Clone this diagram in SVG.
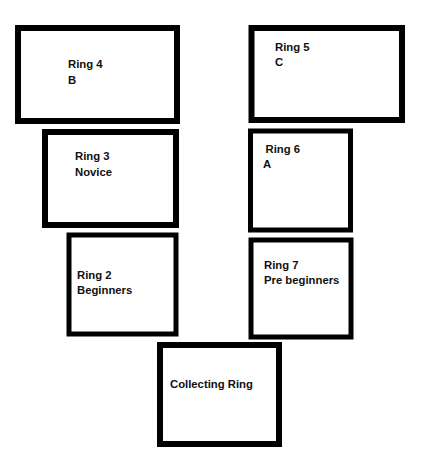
<svg xmlns="http://www.w3.org/2000/svg" width="433" height="451" viewBox="0 0 433 451">
  <style>
    .ring { fill: #ffffff; stroke: #000000; stroke-width: 6; }
    .label { font-family: "Liberation Sans", Arial, sans-serif; font-weight: bold; font-size: 11.3px; fill: #111111; }
  </style>
  <rect x="0" y="0" width="433" height="451" fill="#ffffff"/>

  <g id="ring4">
    <rect class="ring" x="18" y="28" width="159" height="93"/>
    <text class="label" x="68" y="68">Ring 4</text>
    <text class="label" x="68" y="84">B</text>
  </g>

  <g id="ring5">
    <rect class="ring" x="251.5" y="28" width="150.5" height="92"/>
    <text class="label" x="275" y="51">Ring 5</text>
    <text class="label" x="275" y="66">C</text>
  </g>

  <g id="ring3">
    <rect class="ring" x="45" y="132" width="131" height="93"/>
    <text class="label" x="75" y="160">Ring 3</text>
    <text class="label" x="75" y="176">Novice</text>
  </g>

  <g id="ring6">
    <rect class="ring" x="250.5" y="131" width="100" height="99" style="stroke-width:5"/>
    <text class="label" x="265.5" y="153">Ring 6</text>
    <text class="label" x="263" y="168">A</text>
  </g>

  <g id="ring2">
    <rect class="ring" x="69" y="235" width="107" height="99" style="stroke-width:5"/>
    <text class="label" x="77" y="279">Ring 2</text>
    <text class="label" x="77" y="294">Beginners</text>
  </g>

  <g id="ring7">
    <rect class="ring" x="251" y="240" width="100" height="97" style="stroke-width:5"/>
    <text class="label" x="264" y="269">Ring 7</text>
    <text class="label" x="264" y="284">Pre beginners</text>
  </g>

  <g id="collecting-ring">
    <rect class="ring" x="160" y="345" width="119" height="99"/>
    <text class="label" x="170" y="388">Collecting Ring</text>
  </g>

  <g id="connectors"/>
</svg>
